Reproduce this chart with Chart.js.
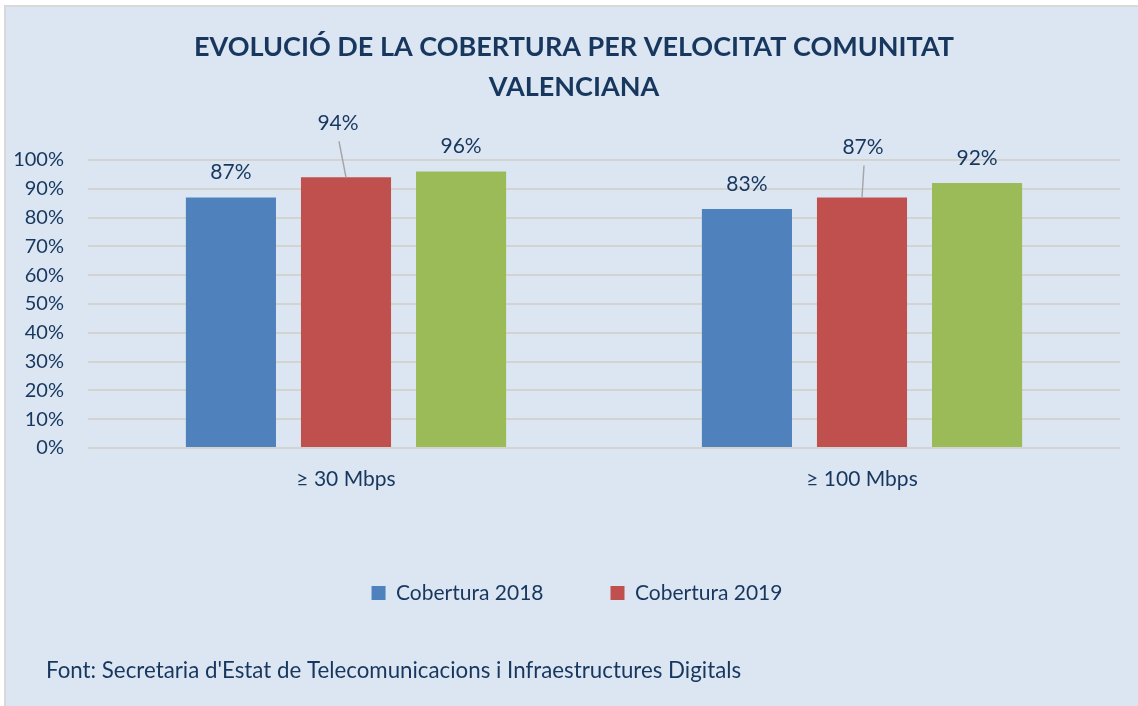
<!DOCTYPE html>
<html lang="ca">
<head>
<meta charset="utf-8">
<title>Evolució de la cobertura per velocitat</title>
<script src="https://cdn.jsdelivr.net/npm/chart.js@4.4.1/dist/chart.umd.min.js"></script>
<style>
  html, body { margin: 0; padding: 0; background: #ffffff; }
  canvas { display: block; }
</style>
</head>
<body>
<canvas id="graficCobertura" width="1138" height="706"></canvas>
<script>
// dades
const categories = ['≥ 30 Mbps', '≥ 100 Mbps'];
const cobertura2018 = [87, 83];
const cobertura2019 = [94, 87];
const cobertura2020 = [96, 92];
const titol = ['EVOLUCIÓ DE LA COBERTURA PER VELOCITAT COMUNITAT', 'VALENCIANA'];
const font = "Font: Secretaria d'Estat de Telecomunicacions i Infraestructures Digitals";

const BLAU = '#4f81bd';
const VERMELL = '#c0504d';
const VERD = '#9bbb59';
const TEXT = '#17375e';
const FONS = '#dce6f2';
const FAMILIA = 'Lato, "Open Sans", sans-serif';

// fons, vora i nota de la font
const fonsPlugin = {
    id: 'fons',
    afterLayout(chart) {
        // títol i llegenda centrats sobre tot el requadre, no només l'àrea del gràfic
        chart.legend.left += 14;
        chart.legend.right += 14;
        chart.titleBlock.left += 11;
        chart.titleBlock.right += 11;
    },
    beforeDraw(chart) {
        const ctx = chart.ctx;
        ctx.save();
        ctx.fillStyle = '#ffffff';
        ctx.fillRect(0, 0, chart.width, chart.height);
        ctx.fillStyle = '#d9d9d9';
        ctx.fillRect(4, 5, chart.width - 4, chart.height - 5);
        ctx.fillStyle = FONS;
        ctx.fillRect(6, 7, chart.width - 6, chart.height - 7);
        ctx.restore();
    },
    afterDraw(chart) {
        const ctx = chart.ctx;
        ctx.save();
        ctx.fillStyle = TEXT;
        ctx.font = '22.3px ' + FAMILIA;
        ctx.textBaseline = 'middle';
        ctx.textAlign = 'left';
        ctx.fillText(font, 46, 671);
        ctx.restore();
    }
};

// etiquetes de valor sobre les barres (amb línia guia quan s'aparten)
const etiquetesPlugin = {
    id: 'etiquetes',
    afterDatasetsDraw(chart) {
        const ctx = chart.ctx;
        ctx.save();
        ctx.font = '21px ' + FAMILIA;
        ctx.fillStyle = TEXT;
        ctx.textAlign = 'center';
        ctx.textBaseline = 'middle';
        chart.data.datasets.forEach((ds, i) => {
            const meta = chart.getDatasetMeta(i);
            meta.data.forEach((bar, j) => {
                const alt = ds.etiquetaAlt ? ds.etiquetaAlt[j] : 25;
                const dx = ds.etiquetaDx ? ds.etiquetaDx[j] : 0;
                const x = bar.x + dx;
                const y = bar.y - alt;
                if (ds.liniaGuia) {
                    ctx.strokeStyle = '#a6a6a6';
                    ctx.lineWidth = 1.5;
                    ctx.beginPath();
                    ctx.moveTo(x + 1, y + 18);
                    ctx.lineTo(bar.x, bar.y);
                    ctx.stroke();
                }
                ctx.fillText(ds.data[j] + '%', x, y);
            });
        });
        ctx.restore();
    }
};

const ctx = document.getElementById('graficCobertura').getContext('2d');
new Chart(ctx, {
    type: 'bar',
    data: {
        labels: categories,
        datasets: [
            { label: 'Cobertura 2018', data: cobertura2018, backgroundColor: BLAU },
            { label: 'Cobertura 2019', data: cobertura2019, backgroundColor: VERMELL,
              etiquetaAlt: [54, 50], etiquetaDx: [-8, 1], liniaGuia: true },
            { label: 'Cobertura 2020', data: cobertura2020, backgroundColor: VERD }
        ]
    },
    options: {
        responsive: false,
        animation: false,
        categoryPercentage: 0.669,
        barPercentage: 0.783,
        layout: { padding: { top: 6, left: 6, right: 18, bottom: 92.5 } },
        plugins: {
            title: {
                display: true,
                text: titol,
                color: TEXT,
                font: { family: FAMILIA, size: 27, weight: 'bold', lineHeight: 40 / 27 },
                padding: { top: 21, bottom: 53 }
            },
            legend: {
                position: 'bottom',
                labels: {
                    color: TEXT,
                    font: { family: FAMILIA, size: 21 },
                    boxWidth: 14,
                    boxHeight: 14,
                    padding: 67,
                    filter: item => item.datasetIndex !== 2
                }
            },
            tooltip: { enabled: false }
        },
        scales: {
            x: {
                grid: { display: false },
                border: { display: false },
                ticks: { color: TEXT, font: { family: FAMILIA, size: 21 }, padding: 11 },
                afterFit: scale => { scale.height = 67.5; }
            },
            y: {
                min: 0,
                max: 100,
                grid: { color: '#d3d3cf', lineWidth: 2, drawTicks: false },
                border: { display: false },
                ticks: {
                    stepSize: 10,
                    color: TEXT,
                    font: { family: FAMILIA, size: 20 },
                    padding: 24,
                    callback: v => v + '%'
                },
                afterFit: scale => { scale.width = 82; }
            }
        }
    },
    plugins: [fonsPlugin, etiquetesPlugin]
});
</script>
</body>
</html>
